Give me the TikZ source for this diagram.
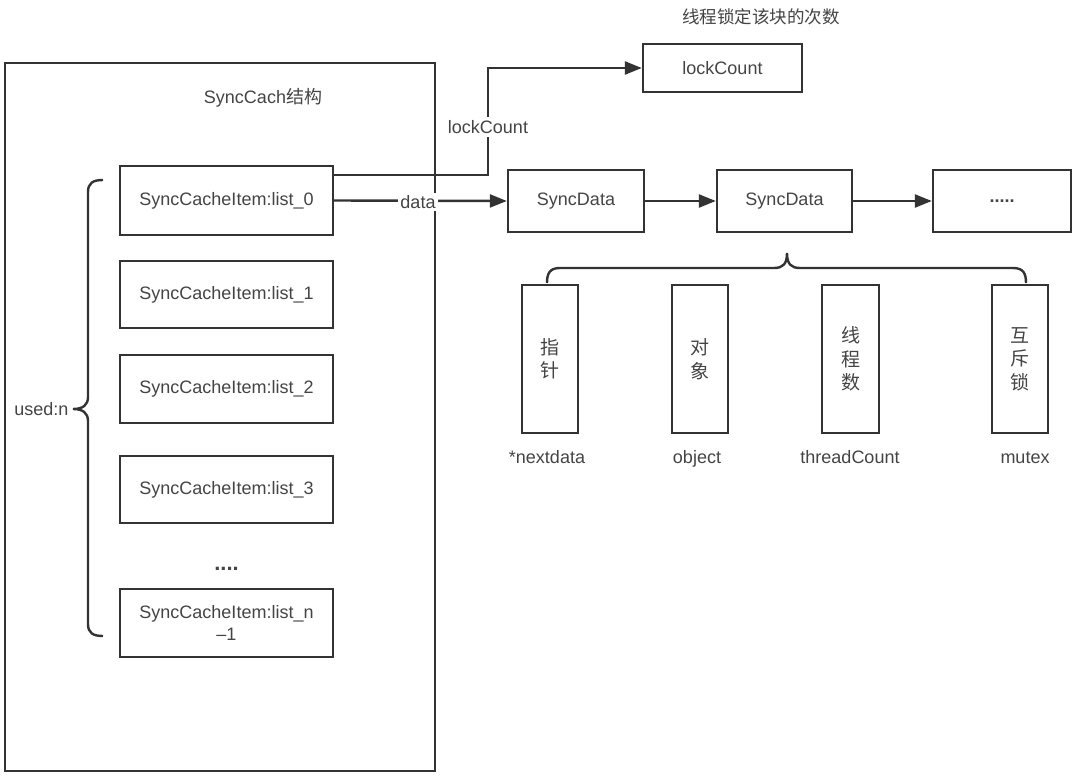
\documentclass[tikz,border=0pt]{standalone}
\usepackage{fontspec}
\setmainfont{Liberation Sans}
\newfontfamily\cjk{Noto Sans CJK SC}
\usetikzlibrary{arrows.meta}
\definecolor{linec}{HTML}{333333}
\definecolor{textc}{HTML}{444444}
\begin{document}
\begin{tikzpicture}[x=1pt,y=-1pt,
  box/.style={draw=linec, line width=2.4pt, text=textc, inner sep=0pt,
    font=\fontsize{18}{22}\selectfont, align=center},
  vbox/.style={box, minimum width=56pt, minimum height=148pt, font=\cjk\fontsize{19}{23.5}\selectfont},
  lbl/.style={text=textc, font=\fontsize{18}{22}\selectfont, inner sep=1.5pt},
  arr/.style={draw=linec, line width=2.4pt, -{Triangle[length=17pt,width=13pt]}},
  brc/.style={draw=linec, line width=2.4pt}]
\useasboundingbox (0,0) rectangle (1080,776);
% outer structure box
\node[box, minimum width=430pt, minimum height=708pt] (big) at (220,417) {};
\node[lbl] (title) at (263,98) {SyncCach{\cjk 结构}};
% list items
\node[box, minimum width=213pt, minimum height=69pt] (L0) at (226.5,200.5) {SyncCacheItem:list\_0};
\node[box, minimum width=213pt, minimum height=67pt] (L1) at (226.5,294.5) {SyncCacheItem:list\_1};
\node[box, minimum width=213pt, minimum height=68pt] (L2) at (226.5,389) {SyncCacheItem:list\_2};
\node[box, minimum width=213pt, minimum height=67pt] (L3) at (226.5,489.5) {SyncCacheItem:list\_3};
\node[lbl, font=\bfseries\fontsize{22}{22}\selectfont, anchor=base] (dots) at (226.5,570) {....};
\node[box, minimum width=213pt, minimum height=68pt] (Ln) at (226.5,623) {SyncCacheItem:list\_n\\–1};
% left brace
\draw[brc] (103,180) .. controls (93,180) and (88,183) .. (88,192) -- (88,397)
  .. controls (88,405) and (83,409) .. (73,409)
  .. controls (83,409) and (88,413) .. (88,421) -- (88,624)
  .. controls (88,633) and (93,636) .. (103,636);
\node[lbl, anchor=east] (used) at (70,409) {used:n};
% lockCount
\node[lbl, font=\cjk\fontsize{17.5}{20}\selectfont] (lctitle) at (761,17) {线程锁定该块的次数};
\node[box, minimum width=159pt, minimum height=48pt] (lock) at (722.5,68) {lockCount};
% SyncData chain
\node[box, minimum width=136pt, minimum height=62pt] (SD1) at (576,201) {SyncData};
\node[box, minimum width=135pt, minimum height=62pt] (SD2) at (784.5,201) {SyncData};
\node[box, minimum width=138pt, minimum height=62pt, font=\bfseries\fontsize{18}{22}\selectfont] (SD3) at (1002,201) {.....};
% connectors
\coordinate (lcbend) at (488,127);
\draw[arr] ([yshift=25.5pt]L0.east) -| (lcbend) |- (lock.west);
\node[lbl, fill=white, inner sep=3pt] (lcl) at (lcbend) {lockCount};
\draw[arr] (L0.east) -- (SD1.west);
\node[lbl, fill=white, inner sep=2pt] (dl) at (418,202) {data};
\draw[arr] (SD1.east) -- (SD2.west);
\draw[arr] (SD2.east) -- (SD3.west);
% top brace
\draw[brc] (547,283) .. controls (547,273) and (550,268) .. (560,268) -- (774,268)
  .. controls (783,268) and (787,264) .. (787,253)
  .. controls (787,264) and (791,268) .. (800,268) -- (1013,268)
  .. controls (1023,268) and (1026,273) .. (1026,283);
% field boxes
\node[vbox] (b1) at (550,359) {指\\针};
\node[vbox] (b2) at (700,359) {对\\象};
\node[vbox, minimum width=57pt] (b3) at (850.5,359) {线\\程\\数};
\node[vbox] (b4) at (1020,359) {互\\斥\\锁};
\node[lbl, anchor=base] (n1) at (547,463) {*nextdata};
\node[lbl, anchor=base] (n2) at (697,463) {object};
\node[lbl, anchor=base] (n3) at (850,463) {threadCount};
\node[lbl, anchor=base] (n4) at (1025,463) {mutex};
\end{tikzpicture}
\end{document}
